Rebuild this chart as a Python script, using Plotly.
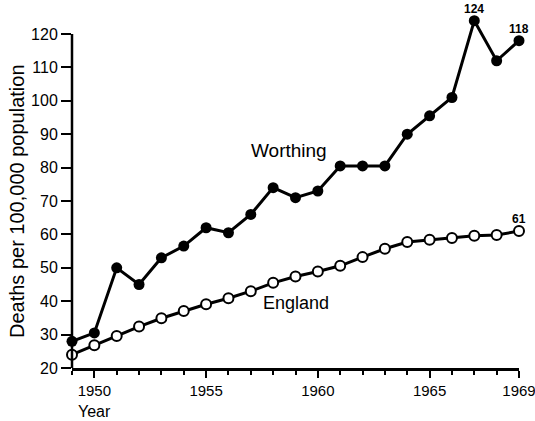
import plotly.graph_objects as go

years = list(range(1949, 1970))
worthing = [28, 30.5, 50, 45, 53, 56.5, 62, 60.5, 66, 74, 71, 73, 80.5, 80.5, 80.5, 90, 95.5, 101, 124, 112, 118]
england = [24, 26.8, 29.6, 32.4, 34.9, 37.1, 39.1, 40.9, 43, 45.5, 47.4, 48.9, 50.6, 53.2, 55.7, 57.7, 58.4, 58.9, 59.6, 59.8, 61]

x_tick_vals = [1950, 1955, 1960, 1965, 1969]
x_tick_text = ["1950", "1955", "1960", "1965", "1969"]
y_tick_vals = [20, 30, 40, 50, 60, 70, 80, 90, 100, 110, 120]
y_tick_text = [str(v) for v in y_tick_vals]

series_labels = ["Worthing", "England"]
point_labels = [("124", 1967, 124), ("118", 1969, 118), ("61", 1969, 61)]
y_title = "Deaths per 100,000 population"
x_title = "Year"

FONT = "Liberation Sans"
Y_TOP = 126  # headroom above the top tick so the 124 peak is not clipped
PX_PER_UNIT = 3.34

fig = go.Figure()
fig.add_trace(go.Scatter(
    x=years, y=england, mode="lines+markers", name=series_labels[1],
    line=dict(color="black", width=3),
    marker=dict(symbol="circle", size=10, color="white", line=dict(color="black", width=2)),
    cliponaxis=False, hoverinfo="skip",
))
fig.add_trace(go.Scatter(
    x=years, y=worthing, mode="lines+markers", name=series_labels[0],
    line=dict(color="black", width=3),
    marker=dict(symbol="circle", size=11, color="black"),
    cliponaxis=False, hoverinfo="skip",
))

# y axis line only from 20 to 120 (the top tick)
fig.add_shape(type="line", xref="paper", yref="y", x0=0, x1=0, y0=y_tick_vals[0], y1=y_tick_vals[-1],
              line=dict(color="black", width=2.5))

y_mid = (y_tick_vals[0] + y_tick_vals[-1]) / 2

annotations = [
    dict(x=1958.7, y=85, xref="x", yref="y", text=series_labels[0], showarrow=False,
         font=dict(family=FONT, size=19, color="black")),
    dict(x=1959.0, y=39.4, xref="x", yref="y", text=series_labels[1], showarrow=False,
         font=dict(family=FONT, size=18, color="black")),
    dict(x=1950.0, y=0, xref="x", yref="paper", yanchor="top", yshift=-33, text=x_title, showarrow=False,
         font=dict(family=FONT, size=16, color="black")),
    dict(x=0, y=y_mid, xref="paper", yref="y", xanchor="center", yanchor="middle", xshift=-55,
         textangle=-90, text=y_title, showarrow=False,
         font=dict(family=FONT, size=20, color="black")),
]
for txt, xv, yv in point_labels:
    annotations.append(dict(x=xv, y=yv, xref="x", yref="y", text="<b>" + txt + "</b>", showarrow=False,
                            yshift=12, font=dict(family=FONT, size=12, color="black")))

top_margin = round(34 - (Y_TOP - 120) * PX_PER_UNIT)

fig.update_layout(
    width=535, height=421,
    margin=dict(l=72, r=16, t=top_margin, b=53, autoexpand=False),
    paper_bgcolor="white", plot_bgcolor="white",
    showlegend=False,
    font=dict(family=FONT, color="black"),
    annotations=annotations,
    xaxis=dict(
        range=[1949, 1969], showgrid=False, zeroline=False, automargin=False,
        showline=True, linecolor="black", linewidth=2.5,
        tickmode="array", tickvals=x_tick_vals, ticktext=x_tick_text,
        ticks="outside", ticklen=7, tickwidth=2, tickcolor="black",
        tickfont=dict(family=FONT, size=15, color="black"),
        ticklabeloverflow="allow",
        minor=dict(tick0=1949, dtick=1, ticks="outside", ticklen=4, tickwidth=2, tickcolor="black"),
    ),
    yaxis=dict(
        range=[20, Y_TOP], showgrid=False, zeroline=False, automargin=False,
        showline=False,
        tickmode="array", tickvals=y_tick_vals, ticktext=y_tick_text,
        ticks="outside", ticklen=10, tickwidth=2, tickcolor="black",
        tickfont=dict(family=FONT, size=16, color="black"),
    ),
)

fig.write_html("out.html", config={"displayModeBar": False},
               post_script="document.body.style.margin='0';")
